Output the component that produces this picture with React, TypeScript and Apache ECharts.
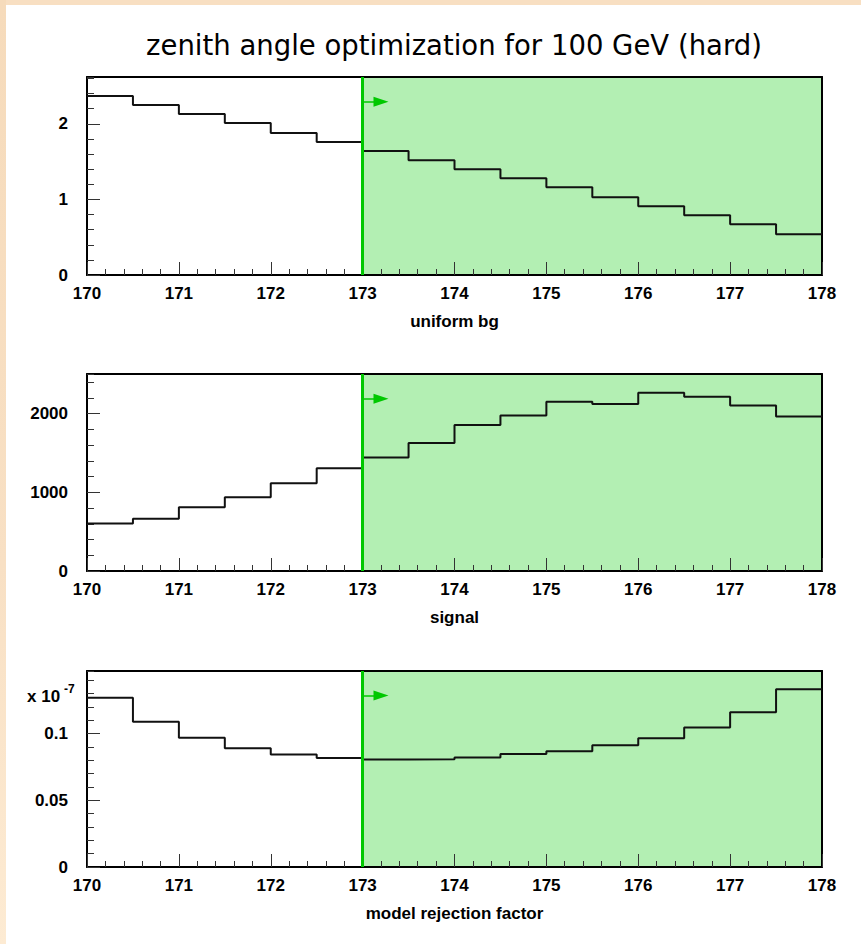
import React, { useEffect, useRef } from "react";
import * as echarts from "echarts";

// Zenith-angle bins (degrees), 0.5 wide: left edges plus the closing edge.
const binEdges = [
  170, 170.5, 171, 171.5, 172, 172.5, 173, 173.5, 174, 174.5, 175, 175.5, 176,
  176.5, 177, 177.5, 178,
];

// Per-bin contents.
const uniformBg = [
  2.37, 2.25, 2.13, 2.01, 1.88, 1.76, 1.64, 1.52, 1.4, 1.28, 1.16, 1.03, 0.91,
  0.79, 0.67, 0.54,
];
const signal = [
  605, 664, 810, 937, 1116, 1308, 1443, 1627, 1857, 1976, 2151, 2125, 2266,
  2215, 2104, 1963,
];
// model rejection factor, in units of 1e-7
const rejection = [
  0.127, 0.109, 0.097, 0.089, 0.0844, 0.0817, 0.0807, 0.0809, 0.0822, 0.0847,
  0.0869, 0.0914, 0.0965, 0.1047, 0.116, 0.1333,
];

const cutValue = 173;
const xMin = 170;
const xMax = 178;

const panelTitles = ["uniform bg", "signal", "model rejection factor"];
const panelValues = [uniformBg, signal, rejection];
const yMaxes = [2.62, 2505, 0.147];
const yMajorSteps = [1, 1000, 0.05];
const yMinorSteps = [0.2, 200, 0.01];

const FONT = "'Liberation Sans', Arial, Helvetica, sans-serif";
const GREEN_FILL = "#b3efb3";
const GREEN_LINE = "#00c800";
const FRAME = { show: true, onZero: false, lineStyle: { color: "#000", width: 2 } };

const gridLayout = [
  { top: 77, height: 198 },
  { top: 374, height: 197 },
  { top: 671, height: 196 },
];

function histPoints(values: number[]) {
  const pts: [number, number][] = values.map((v, i) => [binEdges[i], v]);
  pts.push([binEdges[binEdges.length - 1], values[values.length - 1]]);
  return pts;
}

function plainNumber(v: number) {
  return String(parseFloat(v.toPrecision(10)));
}

function buildOption() {
  const grid: any[] = [];
  const xAxis: any[] = [];
  const yAxis: any[] = [];
  const series: any[] = [];

  gridLayout.forEach((g, i) => {
    grid.push({ left: 87, right: 39, top: g.top, height: g.height });

    // bottom axis with labels and ticks
    xAxis.push({
      type: "value",
      gridIndex: i,
      position: "bottom",
      min: xMin,
      max: xMax,
      interval: 1,
      z: 3,
      name: panelTitles[i],
      nameLocation: "middle",
      nameGap: 38,
      nameTextStyle: {
        fontFamily: FONT,
        fontWeight: "bold",
        fontSize: 17,
        color: "#000",
      },
      axisLine: FRAME,
      axisTick: {
        show: true,
        inside: true,
        length: 13,
        lineStyle: { color: "#333", width: 1 },
      },
      minorTick: {
        show: true,
        splitNumber: 5,
        length: 6,
        lineStyle: { color: "#333", width: 1 },
      },
      splitLine: { show: false },
      axisLabel: {
        show: true,
        margin: 10,
        fontFamily: FONT,
        fontWeight: "bold",
        fontSize: 17,
        color: "#000",
        formatter: plainNumber,
      },
    });
    // top frame edge
    xAxis.push({
      type: "value",
      gridIndex: i,
      position: "top",
      min: xMin,
      max: xMax,
      z: 3,
      axisLine: FRAME,
      axisTick: { show: false },
      axisLabel: { show: false },
      splitLine: { show: false },
    });

    // left axis: labels and major ticks
    yAxis.push({
      type: "value",
      gridIndex: i,
      position: "left",
      min: 0,
      max: yMaxes[i],
      interval: yMajorSteps[i],
      z: 3,
      axisLine: FRAME,
      axisTick: {
        show: true,
        inside: true,
        length: 13,
        lineStyle: { color: "#333", width: 1 },
      },
      splitLine: { show: false },
      axisLabel: {
        show: true,
        showMaxLabel: false,
        margin: 19,
        fontFamily: FONT,
        fontWeight: "bold",
        fontSize: 17,
        color: "#000",
        formatter: plainNumber,
      },
    });
    // left axis: minor ticks
    yAxis.push({
      type: "value",
      gridIndex: i,
      position: "left",
      offset: 0,
      min: 0,
      max: yMaxes[i],
      interval: yMinorSteps[i],
      z: 3,
      axisLine: { show: false, onZero: false },
      axisTick: {
        show: true,
        inside: true,
        length: 7,
        lineStyle: { color: "#333", width: 1 },
      },
      splitLine: { show: false },
      axisLabel: { show: false },
    });
    // right frame edge
    yAxis.push({
      type: "value",
      gridIndex: i,
      position: "right",
      min: 0,
      max: yMaxes[i],
      z: 3,
      axisLine: FRAME,
      axisTick: { show: false },
      axisLabel: { show: false },
      splitLine: { show: false },
    });

    const arrowY = yMaxes[i] * 0.875;
    series.push({
      type: "line",
      xAxisIndex: i * 2,
      yAxisIndex: i * 3,
      step: "end",
      symbol: "none",
      data: histPoints(panelValues[i]),
      lineStyle: { color: "#111", width: 2 },
      silent: true,
      markArea: {
        silent: true,
        itemStyle: { color: GREEN_FILL },
        data: [[{ xAxis: cutValue }, { xAxis: xMax }]],
      },
      markLine: {
        silent: true,
        symbol: ["none", "none"],
        label: { show: false },
        lineStyle: { color: GREEN_LINE, width: 3, type: "solid" },
        data: [
          { xAxis: cutValue, lineStyle: { color: GREEN_LINE, width: 3, type: "solid" } },
          [
            {
              coord: [cutValue, arrowY],
              symbol: "none",
              lineStyle: { color: GREEN_LINE, width: 1.5, type: "solid" },
            },
            {
              coord: [cutValue + 0.2, arrowY],
              symbol: "triangle",
              symbolSize: [10, 15],
            },
          ],
        ],
      },
    });
  });

  return {
    animation: false,
    backgroundColor: "#ffffff",
    grid,
    xAxis,
    yAxis,
    series,
    graphic: [
      {
        type: "rect",
        shape: { x: 0, y: 0, width: 861, height: 5 },
        style: { fill: "#f8dfc2" },
        silent: true,
      },
      {
        type: "rect",
        shape: { x: 0, y: 0, width: 6, height: 944 },
        style: {
          fill: new echarts.graphic.LinearGradient(0, 0, 0, 1, [
            { offset: 0, color: "#f6dbbb" },
            { offset: 0.6, color: "#f8e0c4" },
            { offset: 1, color: "#fdebd3" },
          ]),
        },
        silent: true,
      },
      {
        type: "text",
        x: 454,
        y: 45,
        style: {
          text: "zenith angle optimization for 100 GeV (hard)",
          fontFamily: "'DejaVu Sans', sans-serif",
          fontSize: 27.5,
          fill: "#000",
          align: "center",
          verticalAlign: "middle",
        },
        silent: true,
      },
      {
        type: "text",
        x: 27,
        y: 696,
        style: {
          text: "x 10{sup|-7}",
          fontFamily: FONT,
          fontWeight: "bold",
          fontSize: 17,
          fill: "#000",
          align: "left",
          verticalAlign: "middle",
          rich: {
            sup: {
              fontFamily: FONT,
              fontWeight: "bold",
              fontSize: 12,
              padding: [0, 0, 14, 4],
            },
          },
        },
        silent: true,
      },
    ],
  };
}

export default function App() {
  const ref = useRef<HTMLDivElement>(null);

  useEffect(() => {
    if (!ref.current) return;
    const chart = echarts.init(ref.current, undefined, { renderer: "svg" });
    chart.setOption(buildOption() as any);
    return () => chart.dispose();
  }, []);

  return (
    <div
      ref={ref}
      style={{
        position: "absolute",
        left: 0,
        top: 0,
        width: 861,
        height: 944,
        background: "#fff",
      }}
    />
  );
}
